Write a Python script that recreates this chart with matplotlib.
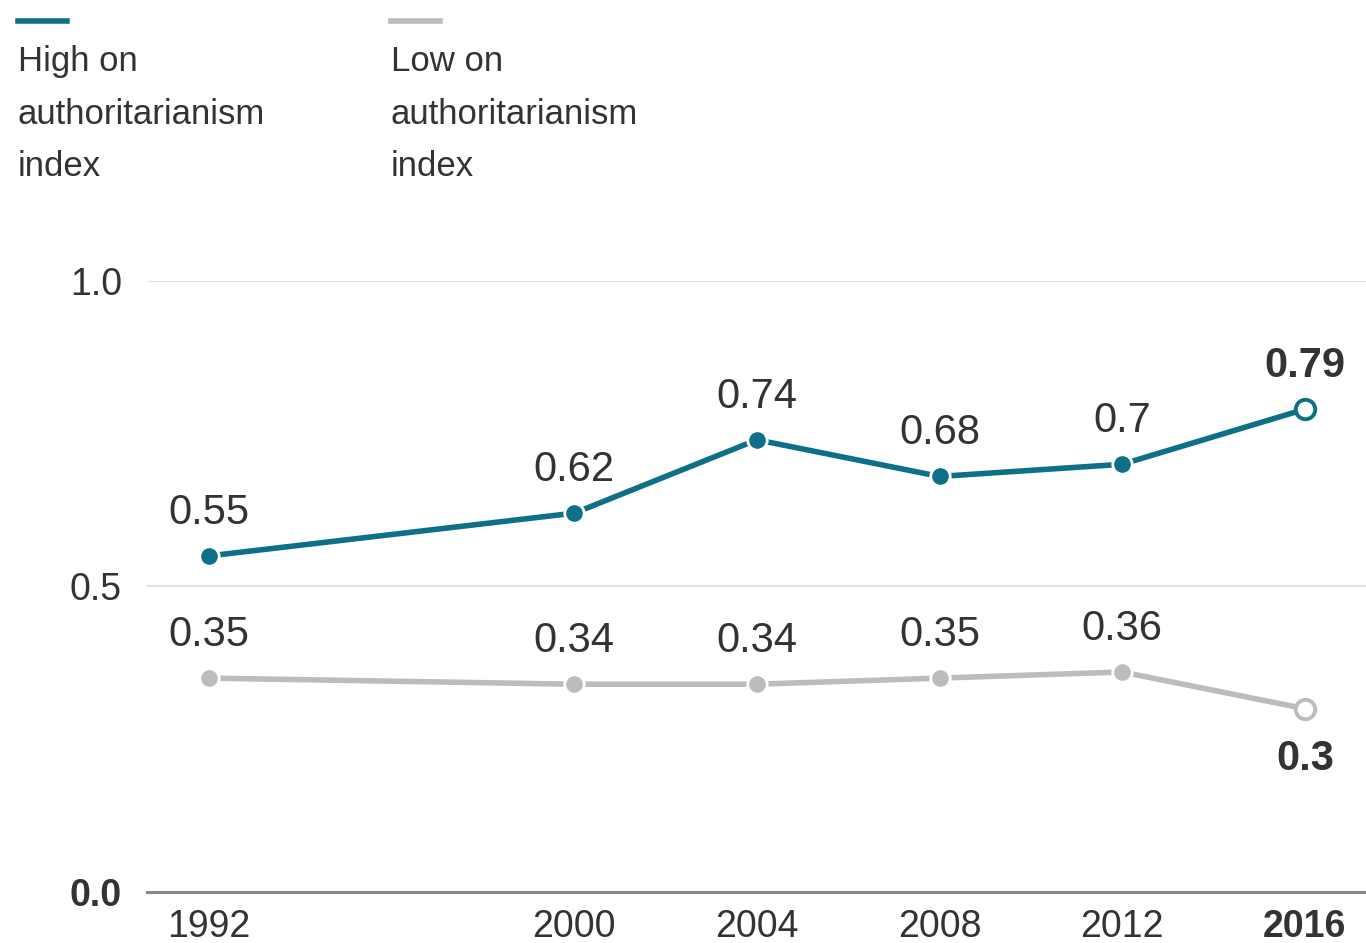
import matplotlib.pyplot as plt

# --- Data ---
years = [1992, 2000, 2004, 2008, 2012, 2016]
high_auth = [0.55, 0.62, 0.74, 0.68, 0.70, 0.79]
low_auth = [0.35, 0.34, 0.34, 0.35, 0.36, 0.30]
high_labels = ['0.55', '0.62', '0.74', '0.68', '0.7', '0.79']
low_labels = ['0.35', '0.34', '0.34', '0.35', '0.36', '0.3']
y_ticks = [0.0, 0.5, 1.0]
y_tick_labels = ['0.0', '0.5', '1.0']

TEAL = '#0e6f88'
GRAY = '#bcbcbc'
TEXT = '#333333'
NARROW = ['Liberation Sans Narrow', 'Liberation Sans', 'DejaVu Sans']
VALUE_FONT = ['Liberation Sans', 'DejaVu Sans']

fig = plt.figure(figsize=(13.66, 9.43), dpi=100)
ax = fig.add_axes([0.1076, 0.0541, 0.8924, 0.648])

for vals, labels, color, below_last in [(high_auth, high_labels, TEAL, False),
                                        (low_auth, low_labels, GRAY, True)]:
    ax.plot(years, vals, color=color, lw=4, zorder=3, solid_capstyle='round')
    ax.plot(years[:-1], vals[:-1], 'o', color=color, ms=14, mec='white', mew=2, zorder=4)
    ax.plot(years[-1:], vals[-1:], 'o', color='white', ms=14, mec=color, mew=2.8, zorder=4)
    for i, (x, v, lab) in enumerate(zip(years, vals, labels)):
        last = i == len(years) - 1
        dy = -36 if (last and below_last) else 31
        ax.annotate(lab, (x, v), xytext=(0, dy), textcoords='offset points',
                    ha='center', va='center', fontsize=30, color=TEXT,
                    family=VALUE_FONT, fontweight='bold' if last else 'normal',
                    annotation_clip=False)

ax.set_xlim(1990.64, 2017.34)
ax.set_ylim(0, 1.0)
ax.set_yticks(y_ticks)
ax.set_yticklabels(y_tick_labels)
ax.set_xticks(years)
ax.set_xticklabels([str(y) for y in years])
ax.tick_params(length=0, labelsize=27, labelcolor=TEXT)
ax.tick_params(axis='y', pad=18)
ax.tick_params(axis='x', pad=12)
for lab in ax.get_xticklabels() + ax.get_yticklabels():
    lab.set_family(NARROW)
ax.get_xticklabels()[-1].set_fontweight('bold')
ax.get_yticklabels()[0].set_fontweight('bold')

for s in ax.spines.values():
    s.set_visible(False)
for yv in y_ticks[1:]:
    ax.axhline(yv, color='#dddddd', lw=1.3, zorder=1)
ax.axhline(0, color='#888888', lw=2.2, zorder=1, clip_on=False)

# legend at the top
for x0, color, text in [(0.013, TEAL, 'High on\nauthoritarianism\nindex'),
                        (0.286, GRAY, 'Low on\nauthoritarianism\nindex')]:
    fig.add_artist(plt.Line2D([x0, x0 + 0.036], [0.978, 0.978], color=color, lw=4,
                              transform=fig.transFigure))
    fig.text(x0, 0.952, text, ha='left', va='top', fontsize=25, color=TEXT,
             family=NARROW, linespacing=1.75)

fig.savefig('out.png', dpi=100, facecolor='white')
